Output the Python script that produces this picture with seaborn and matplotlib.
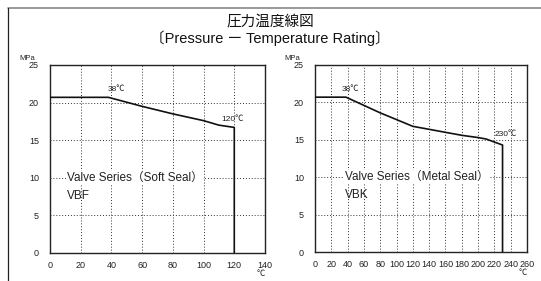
import matplotlib
matplotlib.use("Agg")
import matplotlib.pyplot as plt
import seaborn as sns
import pandas as pd
from matplotlib.lines import Line2D

# Data
soft_temp = [0, 38, 60, 80, 100, 110, 120, 120]
soft_press = [20.7, 20.7, 19.5, 18.5, 17.6, 17.0, 16.7, 0]
metal_temp = [0, 38, 60, 80, 100, 120, 140, 160, 180, 200, 210, 230, 230]
metal_press = [20.7, 20.7, 19.6, 18.6, 17.7, 16.8, 16.4, 16.0, 15.6, 15.3, 15.1, 14.3, 0]
soft_xticks = [0, 20, 40, 60, 80, 100, 120, 140]
metal_xticks = [0, 20, 40, 60, 80, 100, 120, 140, 160, 180, 200, 220, 240, 260]
yticks = [0, 5, 10, 15, 20, 25]

sns.set_theme(style="white")
plt.rcParams['font.family'] = ['Liberation Sans', 'Noto Sans CJK JP', 'DejaVu Sans']

W, H = 541, 281
fig = plt.figure(figsize=(W / 100, H / 100), dpi=100)

def ax_rect(l, r, t, b):
    return [l / W, 1 - b / H, (r - l) / W, (b - t) / H]

ax1 = fig.add_axes(ax_rect(50, 265, 65, 253))
ax2 = fig.add_axes(ax_rect(315, 527, 65, 252))

df1 = pd.DataFrame({"t": soft_temp, "p": soft_press})
df2 = pd.DataFrame({"t": metal_temp, "p": metal_press})

for ax, df, xt, xmax in [(ax1, df1, soft_xticks, 140), (ax2, df2, metal_xticks, 260)]:
    sns.lineplot(data=df, x="t", y="p", sort=False, estimator=None, ax=ax,
                 color="#111111", linewidth=1.2, zorder=3)
    ax.set_xlim(0, xmax)
    ax.set_ylim(0, 25)
    ax.set_xticks(xt)
    ax.set_yticks(yticks)
    ax.set_xticklabels([str(v) for v in xt], fontsize=6.5)
    ax.set_yticklabels([str(v) for v in yticks], fontsize=6.5)
    ax.tick_params(axis="x", length=0, pad=6, colors="#222222")
    ax.tick_params(axis="y", length=0, pad=8, colors="#222222")
    ax.set_xlabel("")
    ax.set_ylabel("")
    for s in ax.spines.values():
        s.set_color("#222222")
        s.set_linewidth(1.0)
        s.set_visible(True)
    ax.grid(True, linestyle=(0, (1, 2)), color="#333333", linewidth=0.7)
    ax.set_axisbelow(True)
    ax.text(-0.07, 1.015, "MPa", transform=ax.transAxes, fontsize=5.5, ha="right", va="bottom",
            color="#222222")
    ax.text(1.0, -0.095, "℃", transform=ax.transAxes, fontsize=6, ha="right", va="top",
            color="#222222")

bbox = dict(facecolor="white", edgecolor="none", pad=0.5)
ax1.text(43, 21.3, "38℃", fontsize=6, ha="center", va="bottom", color="#222222")
ax1.text(119, 17.3, "120℃", fontsize=6, ha="center", va="bottom", color="#222222")
ax1.text(11, 10, "Valve Series（Soft Seal）", fontsize=8.5, ha="left", va="center",
         bbox=bbox, color="#222222")
ax1.text(11, 7.6, "VBF", fontsize=8.5, ha="left", va="center", color="#222222")

ax2.text(43, 21.3, "38℃", fontsize=6, ha="center", va="bottom", color="#222222")
ax2.text(234, 15.2, "230℃", fontsize=6, ha="center", va="bottom", color="#222222")
ax2.text(37, 10, "Valve Series（Metal Seal）", fontsize=8.5, ha="left", va="center",
         bbox=bbox, color="#222222")
ax2.text(37, 7.6, "VBK", fontsize=8.5, ha="left", va="center", color="#222222")

fig.text(270 / W, 1 - 22 / H, "圧力温度線図", fontsize=10.5, ha="center", va="center", color="#111111")
fig.text(270 / W, 1 - 38 / H, "〔Pressure ー Temperature Rating〕", fontsize=10.5, ha="center",
         va="center", color="#111111")

# outer frame
fig.add_artist(Line2D([8 / W, 1], [1 - 8 / H, 1 - 8 / H], transform=fig.transFigure,
                      color="#888888", linewidth=1.2))
fig.add_artist(Line2D([8 / W, 8 / W], [0, 1 - 8 / H], transform=fig.transFigure,
                      color="#222222", linewidth=0.9))

fig.savefig("out.png", dpi=100)
